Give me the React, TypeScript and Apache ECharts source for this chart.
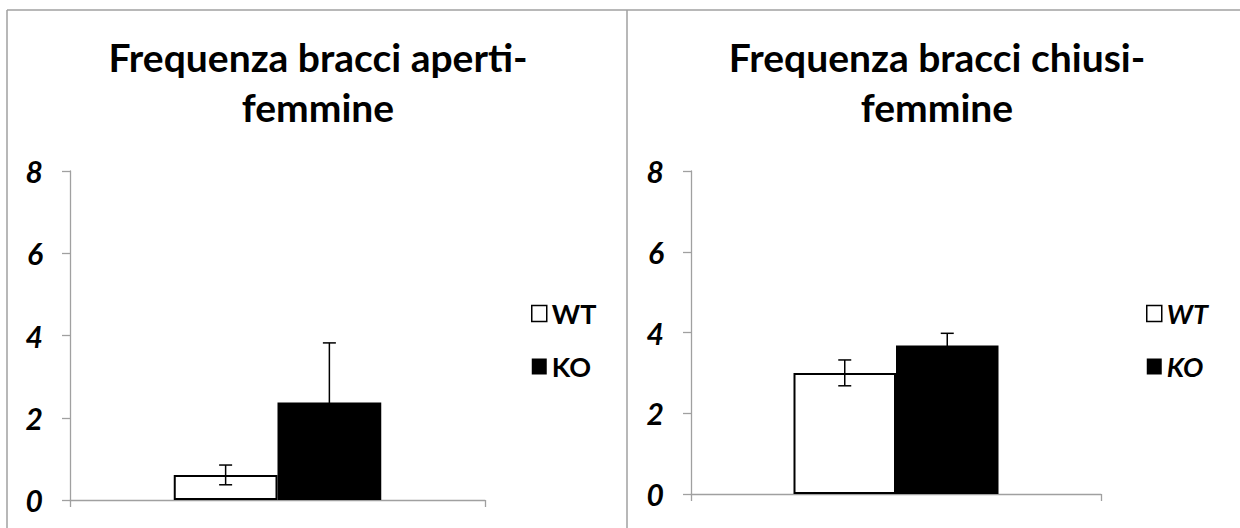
import React, { useEffect, useRef } from "react";
import * as echarts from "echarts";

const categories = [""];
const seriesNames = ["WT", "KO"];
const yTicks = [0, 2, 4, 6, 8];

const openTitle = "Frequenza bracci aperti-\nfemmine";
const openWT = [0.61];
const openWTErr = [0.24];
const openKO = [2.37];
const openKOErr = [1.45];

const closedTitle = "Frequenza bracci chiusi-\nfemmine";
const closedWT = [3.0];
const closedWTErr = [0.32];
const closedKO = [3.68];
const closedKOErr = [0.3];

const GRAY = "#a0a0a0";
const FONT = "Lato";

function errData(means: number[], errs: number[], side: number) {
  return means.map((m, i) => [i, m - errs[i], m + errs[i], side]);
}

const renderErr = (params: any, api: any) => {
  const cat = api.value(0);
  const low = api.coord([cat, api.value(1)]);
  const high = api.coord([cat, api.value(2)]);
  const cw = api.size([1, 0])[0];
  const x = low[0] + (api.value(3) * cw) / 8;
  const hw = 6.5;
  const st = { stroke: "#000", lineWidth: 1.5 };
  return {
    type: "group",
    children: [
      { type: "line", shape: { x1: x, y1: high[1], x2: x, y2: low[1] }, style: st },
      { type: "line", shape: { x1: x - hw, y1: high[1], x2: x + hw, y2: high[1] }, style: st },
      { type: "line", shape: { x1: x - hw, y1: low[1], x2: x + hw, y2: low[1] }, style: st },
    ],
  };
};

function yAxis(gridIndex: number) {
  return {
    type: "value",
    gridIndex,
    min: yTicks[0],
    max: yTicks[yTicks.length - 1],
    interval: yTicks[1] - yTicks[0],
    axisLine: { show: true, lineStyle: { color: GRAY, width: 1.3 } },
    axisTick: { show: true, length: 8, lineStyle: { color: GRAY, width: 1.3 } },
    splitLine: { show: false },
    axisLabel: {
      margin: 27,
      color: "#000",
      fontSize: 30,
      fontWeight: "bold",
      fontStyle: "italic",
      fontFamily: FONT,
    },
  };
}

function xAxis(gridIndex: number) {
  return {
    type: "category",
    gridIndex,
    data: categories,
    axisLine: { show: true, lineStyle: { color: GRAY, width: 1.3 } },
    axisTick: { show: true, length: 7, alignWithLabel: false, lineStyle: { color: GRAY, width: 1.3 } },
    axisLabel: { show: false },
    splitLine: { show: false },
  };
}

function bars(idx: number, wt: number[], ko: number[]) {
  return [
    {
      type: "bar",
      name: seriesNames[0],
      xAxisIndex: idx,
      yAxisIndex: idx,
      data: wt,
      barGap: "0%",
      barCategoryGap: "50%",
      itemStyle: { color: "#fff", borderColor: "#000", borderWidth: 2 },
    },
    {
      type: "bar",
      name: seriesNames[1],
      xAxisIndex: idx,
      yAxisIndex: idx,
      data: ko,
      barGap: "0%",
      barCategoryGap: "50%",
      itemStyle: { color: "#000" },
    },
  ];
}

function errSeries(idx: number, means: number[], errs: number[], side: number) {
  return {
    type: "custom",
    name: "err" + idx + side,
    xAxisIndex: idx,
    yAxisIndex: idx,
    data: errData(means, errs, side),
    renderItem: renderErr,
    z: 5,
    silent: true,
  };
}

function legend(left: number, italic: boolean) {
  return {
    orient: "vertical",
    left,
    top: 295,
    itemWidth: 15,
    itemHeight: 16,
    itemGap: 26,
    icon: "rect",
    textStyle: {
      fontSize: 27,
      lineHeight: 27,
      fontWeight: "bold",
      fontStyle: italic ? "italic" : "normal",
      fontFamily: FONT,
      color: "#000",
    },
    data: [
      { name: seriesNames[0], itemStyle: { color: "#fff", borderColor: "#000", borderWidth: 1.5 } },
      { name: seriesNames[1], itemStyle: { color: "#000", borderWidth: 0 } },
    ],
  };
}

function titleText(x: number, text: string) {
  return {
    type: "text",
    x,
    y: 32,
    style: {
      text,
      align: "center",
      verticalAlign: "top",
      fontSize: 39,
      lineHeight: 50,
      fontWeight: "bold",
      fontFamily: FONT,
      fill: "#000",
    },
  };
}

function borderLine(x1: number, y1: number, x2: number, y2: number) {
  return {
    type: "line",
    shape: { x1, y1, x2, y2 },
    style: { stroke: GRAY, lineWidth: 1.5 },
  };
}

export default function App() {
  const ref = useRef<HTMLDivElement>(null);
  useEffect(() => {
    if (!ref.current) return;
    const chart = echarts.init(ref.current, null, { renderer: "svg" });
    chart.setOption({
      animation: false,
      backgroundColor: "#fff",
      grid: [
        { left: 70, top: 171, width: 415, height: 329 },
        { left: 691, top: 171, width: 410, height: 323 },
      ],
      xAxis: [xAxis(0), xAxis(1)],
      yAxis: [yAxis(0), yAxis(1)],
      legend: [legend(526, false), legend(1141, true)],
      graphic: [
        borderLine(7, 10, 1240, 10),
        borderLine(7, 10, 7, 528),
        borderLine(627, 10, 627, 528),
        titleText(318, openTitle),
        titleText(937, closedTitle),
      ],
      series: [
        ...bars(0, openWT, openKO),
        errSeries(0, openWT, openWTErr, -1),
        errSeries(0, openKO, openKOErr, 1),
        ...bars(1, closedWT, closedKO),
        errSeries(1, closedWT, closedWTErr, -1),
        errSeries(1, closedKO, closedKOErr, 1),
      ],
    });
    return () => chart.dispose();
  }, []);
  return (
    <div
      ref={ref}
      style={{ position: "absolute", left: 0, top: 0, width: 1240, height: 528 }}
    />
  );
}
